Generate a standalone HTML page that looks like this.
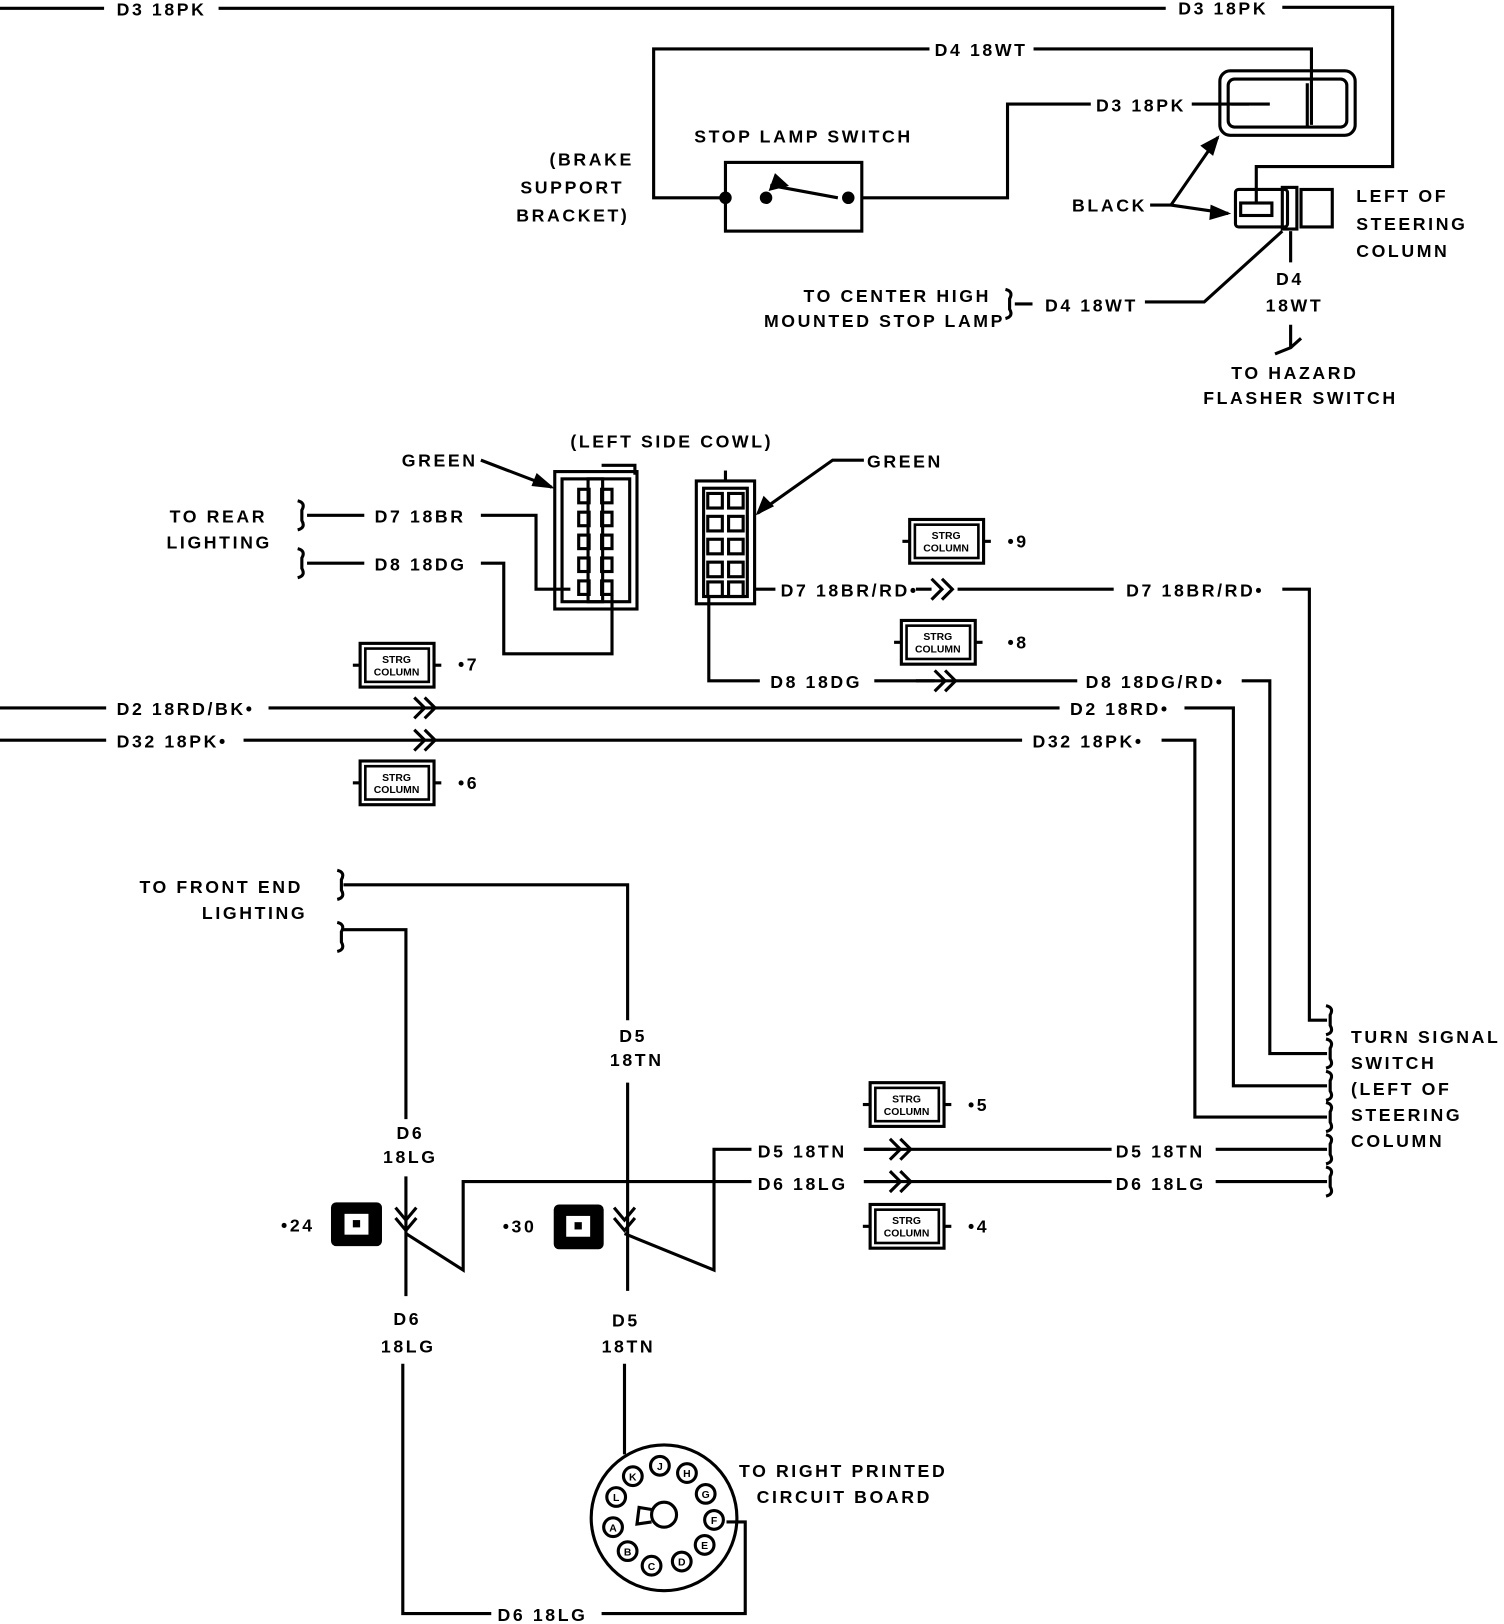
<!DOCTYPE html>
<html><head><meta charset="utf-8"><style>
html,body{margin:0;padding:0;background:#fff;width:1504px;height:1624px;overflow:hidden}
svg{display:block}
text{font-family:"Liberation Sans",sans-serif;font-weight:bold;font-size:17px;letter-spacing:2.5px;fill:#000}
.s{font-size:10px;letter-spacing:0}
</style></head><body>
<svg width="1504" height="1624" viewBox="0 0 1445 1560" preserveAspectRatio="none" xmlns="http://www.w3.org/2000/svg">
<defs>
<g id="strg">
<rect x="0" y="0" width="71" height="42" fill="none" stroke="#000" stroke-width="3"/>
<rect x="5" y="5" width="61" height="32" fill="none" stroke="#000" stroke-width="2.5"/>
<line x1="-7" y1="21" x2="0" y2="21" stroke="#000" stroke-width="3"/>
<line x1="71" y1="21" x2="78" y2="21" stroke="#000" stroke-width="3"/>
</g>
<path id="chev" d="M0,-10 L10,0 L0,10 M10,-10 L20,0 L10,10" fill="none" stroke="#000" stroke-width="3"/>
<path id="sq" d="M-4,-14 Q4,-12 0,-5 L0,5 Q4,12 -4,14" fill="none" stroke="#000" stroke-width="3"/>
<path id="dchev" d="M-10,-10 L0,2 L10,-10 M-10,0 L0,12 L10,0" fill="none" stroke="#000" stroke-width="3"/>
</defs>
<g fill="none" stroke="#000" stroke-width="3">
<path d="M0,8 H100 M210,8 H1120 M1232,7 H1338 V160 H1207 V195"/>
<path d="M893,47 H628 V190 H697 M993,47 H1260 V120"/>
<rect x="697" y="156" width="131" height="66"/>
<path d="M740,178 L805,190 M828,190 H968 V100 H1048 M1145,100 H1200"/>
<path d="M1183,100 H1220 M1256,80 V122"/>
<rect x="1172" y="68" width="130" height="62" rx="10"/>
<rect x="1180" y="76" width="114" height="46" rx="6"/>
<rect x="1187" y="182" width="50" height="36" rx="3"/>
<rect x="1192" y="195" width="30" height="12"/>
<rect x="1232" y="180" width="14" height="40"/>
<rect x="1250" y="182" width="30" height="36"/>
<path d="M1105,197 H1125 L1170,132 M1125,197 L1180,205"/>
<path d="M1100,290 H1157 L1232,222 M1240,222 V252 M975,292 H992"/>
<path d="M1240,312 V335 M1225,340 L1240,334 L1250,325"/>
<path d="M462,442 L530,468 M830,442 H800 L728,493"/>
<rect x="533" y="453" width="79" height="132"/>
<rect x="540" y="460" width="65" height="118"/>
<rect x="565" y="460" width="14" height="118"/>
<path d="M578,447 H610 V456"/>
<rect x="669" y="462" width="56" height="118"/>
<rect x="676" y="469" width="42" height="104"/>
<path d="M697,452 V462"/>
<path d="M295,495 H350 M462,495 H515 V566 H548 M295,541 H350 M462,541 H484 V628 H588 V572"/>
<path d="M725,566 H745 M920,566 H1070 M1232,566 H1258 V980 H1275"/>
<path d="M681,573 V654 H730 M840,654 H1035 M1193,654 H1220 V1012 H1275"/>
<path d="M0,680 H102 M258,680 H1018 M1138,680 H1185 V1043 H1275"/>
<path d="M0,711 H102 M234,711 H982 M1116,711 H1148 V1073 H1275"/>
<path d="M330,850 H603 V980 M603,1040 V1240 M600,1310 V1397"/>
<path d="M330,893 H390 V1075 M390,1130 V1245 M387,1310 V1550 H472 M578,1550 H716 V1462 H698"/>
<path d="M390,1185 L445,1220 V1135 H722 M830,1135 H1068 M1168,1135 H1275"/>
<path d="M600,1185 L686,1220 V1104 H722 M830,1104 H1068 M1168,1104 H1275"/>
<circle cx="638" cy="1458" r="70"/>
<circle cx="638" cy="1455" r="12"/>
<path d="M626,1450 L614,1448 L612,1464 L626,1462"/>
</g>
<g fill="none" stroke="#000" stroke-width="3">
<rect x="556" y="470" width="10" height="13"/><rect x="578" y="470" width="10" height="13"/>
<rect x="556" y="492" width="10" height="13"/><rect x="578" y="492" width="10" height="13"/>
<rect x="556" y="514" width="10" height="13"/><rect x="578" y="514" width="10" height="13"/>
<rect x="556" y="536" width="10" height="13"/><rect x="578" y="536" width="10" height="13"/>
<rect x="556" y="558" width="10" height="13"/><rect x="578" y="558" width="10" height="13"/>
<rect x="680" y="474" width="14" height="14"/><rect x="700" y="474" width="14" height="14"/>
<rect x="680" y="496" width="14" height="14"/><rect x="700" y="496" width="14" height="14"/>
<rect x="680" y="518" width="14" height="14"/><rect x="700" y="518" width="14" height="14"/>
<rect x="680" y="540" width="14" height="14"/><rect x="700" y="540" width="14" height="14"/>
<rect x="680" y="559" width="14" height="14"/><rect x="700" y="559" width="14" height="14"/>
</g>
<path d="M530,468 L516,456 L512,466 Z M728,493 L734,478 L742,486 Z M1170,132 L1155,140 L1165,148 Z M1180,205 L1164,198 L1163,210 Z M745,168 L756,178 L740,182 Z" fill="#000" stroke="#000" stroke-width="2"/>
<circle cx="697" cy="190" r="6"/><circle cx="736" cy="190" r="6"/><circle cx="815" cy="190" r="6"/>
<g transform="translate(-2,-10)">
<g fill="#fff" stroke="#000" stroke-width="3">
<circle cx="610" cy="1428" r="9"/><circle cx="636" cy="1418" r="9"/><circle cx="662" cy="1425" r="9"/>
<circle cx="680" cy="1445" r="9"/><circle cx="688" cy="1470" r="9"/><circle cx="679" cy="1494" r="9"/>
<circle cx="657" cy="1510" r="9"/><circle cx="628" cy="1514" r="9"/><circle cx="605" cy="1500" r="9"/>
<circle cx="591" cy="1477" r="9"/><circle cx="594" cy="1448" r="9"/>
</g>
<g text-anchor="middle">
<text x="610" y="1432" class="s">K</text><text x="636" y="1422" class="s">J</text><text x="662" y="1429" class="s">H</text>
<text x="680" y="1449" class="s">G</text><text x="688" y="1474" class="s">F</text><text x="679" y="1498" class="s">E</text>
<text x="657" y="1514" class="s">D</text><text x="628" y="1518" class="s">C</text><text x="605" y="1504" class="s">B</text>
<text x="591" y="1481" class="s">A</text><text x="594" y="1452" class="s">L</text>
</g>
</g>
<use href="#strg" x="874" y="499"/><use href="#strg" x="866" y="596"/><use href="#strg" x="346" y="618"/>
<use href="#strg" x="346" y="731"/><use href="#strg" x="836" y="1040"/><use href="#strg" x="836" y="1157"/>
<g text-anchor="middle">
<text x="909" y="518" class="s">STRG</text><text x="909" y="530" class="s">COLUMN</text>
<text x="901" y="615" class="s">STRG</text><text x="901" y="627" class="s">COLUMN</text>
<text x="381" y="637" class="s">STRG</text><text x="381" y="649" class="s">COLUMN</text>
<text x="381" y="750" class="s">STRG</text><text x="381" y="762" class="s">COLUMN</text>
<text x="871" y="1059" class="s">STRG</text><text x="871" y="1071" class="s">COLUMN</text>
<text x="871" y="1176" class="s">STRG</text><text x="871" y="1188" class="s">COLUMN</text>
</g>
<use href="#chev" x="895" y="566"/><use href="#chev" x="898" y="654"/><use href="#chev" x="398" y="680"/>
<use href="#chev" x="398" y="711"/><use href="#chev" x="855" y="1104"/><use href="#chev" x="855" y="1135"/>
<path d="M880,566 H895 M880,654 H898 M830,1104 H855 M830,1135 H855" stroke="#000" stroke-width="3"/>
<use href="#dchev" x="390" y="1170"/><use href="#dchev" x="600" y="1170"/>
<use href="#sq" x="290" y="495"/><use href="#sq" x="290" y="541"/><use href="#sq" x="970" y="292"/>
<use href="#sq" x="328" y="850"/><use href="#sq" x="328" y="900"/>
<use href="#sq" x="1278" y="980"/><use href="#sq" x="1278" y="1012"/><use href="#sq" x="1278" y="1043"/>
<use href="#sq" x="1278" y="1073"/><use href="#sq" x="1278" y="1104"/><use href="#sq" x="1278" y="1135"/>
<rect x="318" y="1155" width="49" height="42" rx="5"/>
<rect x="331" y="1166" width="23" height="20" fill="#fff"/><rect x="339" y="1172" width="7" height="7"/>
<rect x="532" y="1157" width="48" height="43" rx="5"/>
<rect x="544" y="1168" width="23" height="20" fill="#fff"/><rect x="552" y="1174" width="7" height="7"/>
<text x="112" y="15">D3 18PK</text><text x="1132" y="14">D3 18PK</text>
<text x="898" y="54">D4 18WT</text><text x="1053" y="107">D3 18PK</text>
<text x="667" y="137">STOP LAMP SWITCH</text>
<text x="528" y="159">(BRAKE</text><text x="500" y="186">SUPPORT</text><text x="496" y="213">BRACKET)</text>
<text x="1030" y="203">BLACK</text>
<text x="1303" y="194">LEFT OF</text><text x="1303" y="221">STEERING</text><text x="1303" y="247">COLUMN</text>
<text x="772" y="290">TO CENTER HIGH</text><text x="734" y="314">MOUNTED STOP LAMP</text>
<text x="1004" y="299">D4 18WT</text>
<text x="1226" y="274">D4</text><text x="1216" y="299">18WT</text>
<text x="1183" y="364">TO HAZARD</text><text x="1156" y="388">FLASHER SWITCH</text>
<text x="548" y="430">(LEFT SIDE COWL)</text>
<text x="386" y="448">GREEN</text><text x="833" y="449">GREEN</text>
<text x="163" y="502">TO REAR</text><text x="160" y="527">LIGHTING</text>
<text x="360" y="502">D7 18BR</text><text x="360" y="548">D8 18DG</text>
<text x="750" y="573">D7 18BR/RD•</text><text x="1082" y="573">D7 18BR/RD•</text>
<text x="968" y="526">•9</text><text x="968" y="623">•8</text><text x="440" y="644">•7</text><text x="440" y="758">•6</text>
<text x="930" y="1067">•5</text><text x="930" y="1184">•4</text>
<text x="740" y="661">D8 18DG</text><text x="1043" y="661">D8 18DG/RD•</text>
<text x="112" y="687">D2 18RD/BK•</text><text x="1028" y="687">D2 18RD•</text>
<text x="112" y="718">D32 18PK•</text><text x="992" y="718">D32 18PK•</text>
<text x="1298" y="1002">TURN SIGNAL</text><text x="1298" y="1027">SWITCH</text><text x="1298" y="1052">(LEFT OF</text>
<text x="1298" y="1077">STEERING</text><text x="1298" y="1102">COLUMN</text>
<text x="134" y="858">TO FRONT END</text><text x="194" y="883">LIGHTING</text>
<text x="595" y="1001">D5</text><text x="586" y="1024">18TN</text>
<text x="381" y="1094">D6</text><text x="368" y="1117">18LG</text>
<text x="378" y="1273">D6</text><text x="366" y="1299">18LG</text>
<text x="588" y="1274">D5</text><text x="578" y="1299">18TN</text>
<text x="270" y="1183">•24</text><text x="483" y="1184">•30</text>
<text x="728" y="1112">D5 18TN</text><text x="1072" y="1112">D5 18TN</text>
<text x="728" y="1143">D6 18LG</text><text x="1072" y="1143">D6 18LG</text>
<text x="710" y="1419">TO RIGHT PRINTED</text><text x="727" y="1444">CIRCUIT BOARD</text>
<text x="478" y="1557">D6 18LG</text>
</svg>
</body></html>
